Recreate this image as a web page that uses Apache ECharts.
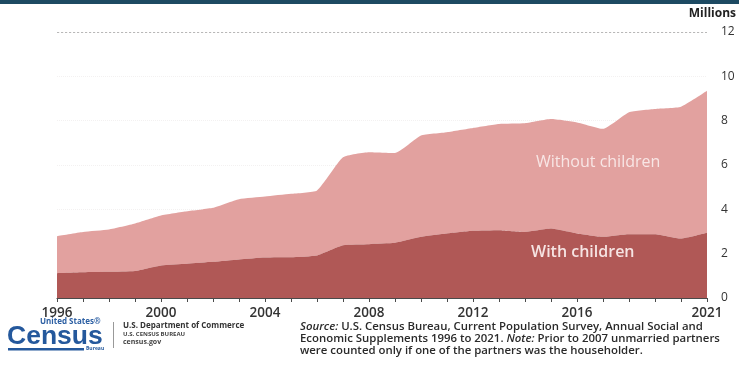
<!DOCTYPE html>
<html>
<head>
<meta charset="utf-8">
<script src="https://cdn.jsdelivr.net/npm/echarts@6/dist/echarts.min.js"></script>
<style>
  html, body { margin: 0; padding: 0; background: #fff; }
  #chart { width: 739px; height: 372px; }
</style>
</head>
<body>
<div id="chart"></div>
<script>
// Unmarried-partner households, millions, 1996–2021
const years = ['1996','1997','1998','1999','2000','2001','2002','2003','2004','2005','2006','2007','2008',
               '2009','2010','2011','2012','2013','2014','2015','2016','2017','2018','2019','2020','2021'];
const withChildren = [1.12, 1.16, 1.18, 1.22, 1.47, 1.55, 1.63, 1.74, 1.83, 1.84, 1.92, 2.38, 2.43,
                      2.49, 2.76, 2.91, 3.03, 3.06, 2.98, 3.13, 2.91, 2.76, 2.88, 2.88, 2.68, 2.94];
const withoutChildren = [1.67, 1.82, 1.91, 2.14, 2.25, 2.36, 2.44, 2.72, 2.75, 2.86, 2.93, 3.97, 4.15,
                         4.05, 4.57, 4.57, 4.64, 4.79, 4.90, 4.94, 5.01, 4.87, 5.50, 5.65, 5.95, 6.41];
const yTicks = [0, 2, 4, 6, 8, 10, 12];
const xLabelYears = ['1996','2000','2004','2008','2012','2016','2021'];

const FONT = '"Open Sans", "Noto Sans", sans-serif';
const chart = echarts.init(document.getElementById('chart'), null, { renderer: 'canvas' });

chart.setOption({
  animation: false,
  backgroundColor: '#ffffff',
  grid: { left: 57, right: 32, top: 32, bottom: 74 },
  xAxis: {
    type: 'category',
    data: years,
    boundaryGap: false,
    axisLine: { lineStyle: { color: '#4a4a4a', width: 1.2 } },
    axisTick: { show: true, alignWithLabel: true, interval: 0, length: 4, lineStyle: { color: '#4a4a4a' } },
    axisLabel: {
      interval: 0,
      formatter: v => (xLabelYears.indexOf(v) >= 0 ? v : ''),
      color: '#333', fontFamily: FONT, fontSize: 13.5, fontWeight: 600, margin: 8
    },
    splitLine: { show: false }
  },
  yAxis: {
    type: 'value',
    position: 'right',
    min: yTicks[0], max: yTicks[yTicks.length - 1], interval: 2,
    axisLine: { show: false },
    axisTick: { show: false },
    axisLabel: { color: '#333', fontFamily: FONT, fontSize: 12, margin: 14 },
    splitLine: { show: true, lineStyle: { color: '#f3f1f1', type: 'dotted' } }
  },
  series: [
    {
      name: 'With children',
      type: 'line',
      stack: 'total',
      data: withChildren,
      showSymbol: false,
      smooth: 0.15,
      lineStyle: { width: 0 },
      areaStyle: { color: '#b05856', opacity: 1 },
      z: 3,
      markLine: {
        silent: true, symbol: 'none', label: { show: false },
        lineStyle: { color: '#b8b8b8', type: [2, 2], width: 1 },
        data: [{ yAxis: 12 }]
      }
    },
    {
      name: 'Without children',
      type: 'line',
      stack: 'total',
      data: withoutChildren,
      showSymbol: false,
      smooth: 0.15,
      lineStyle: { width: 0 },
      areaStyle: { color: '#e2a19f', opacity: 1 },
      z: 2
    }
  ],
  graphic: [
    // header strip
    { type: 'rect', z: 100, left: 0, top: 0, shape: { width: 739, height: 4 }, style: { fill: '#1d4a62' } },
    { type: 'text', z: 100, right: 3, top: 8, style: { text: 'Millions', font: `bold 12px ${FONT}`, fill: '#222' } },
    // series labels
    { type: 'text', z: 100, left: 536, top: 154, style: { text: 'Without children', font: `16px ${FONT}`, fill: '#f8e6e5' } },
    { type: 'text', z: 100, left: 531, top: 244, style: { text: 'With children', font: `600 16px ${FONT}`, fill: '#f6e4e3' } },
    // Census logo
    { type: 'text', z: 100, left: 40, top: 318, style: { text: 'United States\u00AE', font: `bold 8px ${FONT}`, fill: '#2c5fa3' } },
    { type: 'text', z: 100, left: 7, top: 323, style: { text: 'Census', font: `bold 26.5px "Liberation Sans", Arial, sans-serif`, fill: '#24589c' } },
    { type: 'rect', z: 100, left: 8, top: 348, shape: { width: 76, height: 2.5 }, style: { fill: '#24589c' } },
    { type: 'text', z: 100, left: 86, top: 346, style: { text: 'Bureau', font: `bold 5px ${FONT}`, fill: '#24589c' } },
    { type: 'rect', z: 100, left: 113, top: 322, shape: { width: 1, height: 26 }, style: { fill: '#999' } },
    { type: 'text', z: 100, left: 123, top: 322, style: { text: 'U.S. Department of Commerce', font: `bold 8px ${FONT}`, fill: '#333' } },
    { type: 'text', z: 100, left: 123, top: 331, style: { text: 'U.S. CENSUS BUREAU', font: `bold 6px ${FONT}`, fill: '#444' } },
    { type: 'text', z: 100, left: 123, top: 338, style: { text: 'census.gov', font: `bold 7px ${FONT}`, fill: '#444' } },
    // source note
    {
      type: 'text', z: 100, left: 300, top: 321,
      style: {
        text: '{i|Source:} U.S. Census Bureau, Current Population Survey, Annual Social and\n' +
              'Economic Supplements 1996 to 2021. {i|Note:} Prior to 2007 unmarried partners\n' +
              'were counted only if one of the partners was the householder.',
        font: `600 11.4px ${FONT}`, fill: '#2a2a2a', lineHeight: 12,
        rich: { i: { fontStyle: 'italic', fontFamily: FONT, fontSize: 11.4, fontWeight: 600, fill: '#2a2a2a', lineHeight: 12 } }
      }
    }
  ]
});
</script>
</body>
</html>
